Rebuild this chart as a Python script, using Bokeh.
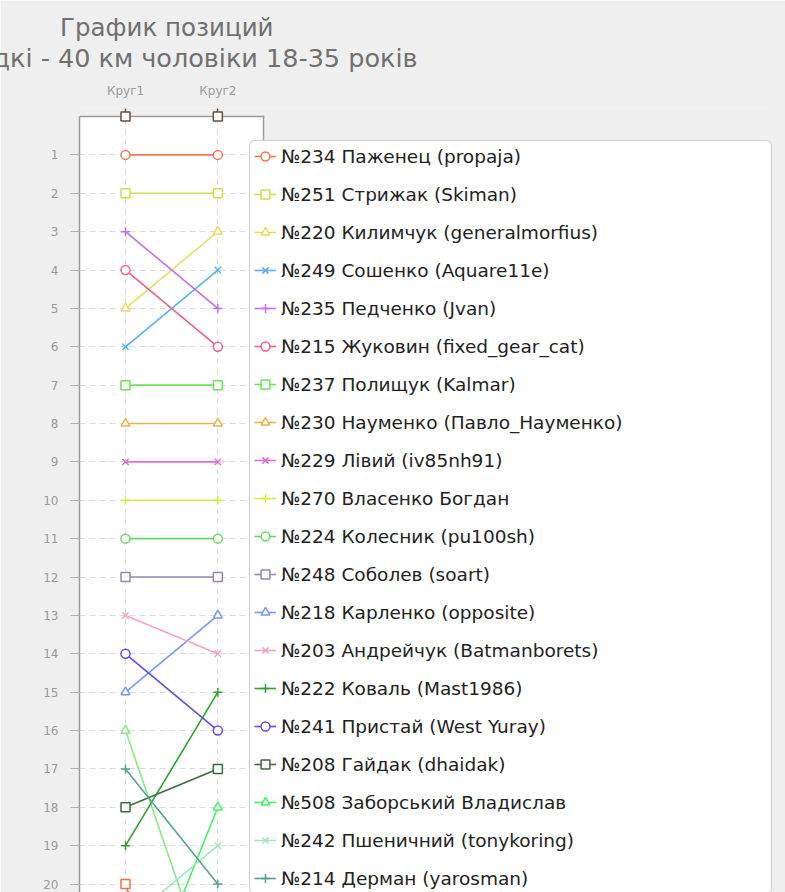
from bokeh.plotting import figure
from bokeh.models import (Range1d, FixedTicker, Legend, LegendItem,
                          BoxAnnotation, Title)
from bokeh.embed import file_html
from bokeh.resources import INLINE

title_text = "График позиций"
subtitle_text = "дкі - 40 км чоловіки 18-35 років"
laps = ["Круг1", "Круг2"]

names = [
    "№234 Паженец (propaja)",
    "№251 Стрижак (Skiman)",
    "№220 Килимчук (generalmorfius)",
    "№249 Сошенко (Aquare11e)",
    "№235 Педченко (Jvan)",
    "№215 Жуковин (fixed_gear_cat)",
    "№237 Полищук (Kalmar)",
    "№230 Науменко (Павло_Науменко)",
    "№229 Лівий (iv85nh91)",
    "№270 Власенко Богдан",
    "№224 Колесник (pu100sh)",
    "№248 Соболев (soart)",
    "№218 Карленко (opposite)",
    "№203 Андрейчук (Batmanborets)",
    "№222 Коваль (Mast1986)",
    "№241 Пристай (West Yuray)",
    "№208 Гайдак (dhaidak)",
    "№508 Заборський Владислав",
    "№242 Пшеничний (tonykoring)",
    "№214 Дерман (yarosman)",
]
lap1_pos = [1, 2, 5, 6, 3, 4, 7, 8, 9, 10, 11, 12, 15, 13, 19, 14, 18, 24, 21, 17]
lap2_pos = [1, 2, 3, 4, 5, 6, 7, 8, 9, 10, 11, 12, 13, 14, 15, 16, 17, 18, 19, 20]
colors = ["#f07850", "#c4e44c", "#e6dc64", "#5eaef0", "#c070f0",
          "#ee6088", "#6ee25c", "#e8b448", "#e070d8", "#d4ee40",
          "#6cd46c", "#9686b0", "#7898f6", "#f2a8b8", "#30a030",
          "#5a4ee0", "#3f6a3f", "#48f068", "#a0e6c0", "#5a9e90"]
markers = ["circle", "square", "triangle", "x", "cross"] * 4

# riders whose legend entries fall below the visible area
extra_lap1 = [16, 20]
extra_lap2 = [23, 27]
extra_colors = ["#86e886", "#f07040"]
extra_markers = ["triangle", "square"]

rank_ticks = list(range(1, 21))
axis_rank = 0  # rank value at the top edge of the plot box

# ---- layout (screen pixels) ----
W, H = 785, 892
FRAME_L, FRAME_R, FRAME_T, FRAME_B = 79, 785, 108, 892
X0_PX, DX_PX = 125.0, 92.34    # screen x of first lap, px per lap
Y0_PX, DY_PX = 116.0, 38.378   # screen y of rank 0, px per rank
BOX_R_PX = 263                  # right edge of the plot box
LEG_L, LEG_T = 249, 142         # legend box left / top


def xd(px):
    return (px - X0_PX) / DX_PX


def yd(px):
    return (px - Y0_PX) / DY_PX


panel_bg = "#efefef"
grey_line = "#9a9a9a"
brown = "#6b4e3a"

p = figure(width=W, height=H, output_backend="svg", toolbar_location=None,
           x_range=Range1d(xd(FRAME_L), xd(FRAME_R)),
           y_range=Range1d(yd(FRAME_B), yd(FRAME_T)),
           x_axis_location="above",
           min_border_left=FRAME_L, min_border_right=W - FRAME_R,
           min_border_top=FRAME_T, min_border_bottom=H - FRAME_B,
           background_fill_color=panel_bg, border_fill_color=panel_bg,
           outline_line_color=None)

lap_idx = list(range(len(laps)))

xa = p.xaxis[0]
xa.ticker = FixedTicker(ticks=lap_idx)
xa.major_label_overrides = {i: lap for i, lap in enumerate(laps)}
xa.axis_line_color = None
xa.major_tick_out = 0
xa.major_tick_in = 4
xa.major_tick_line_color = brown
xa.major_tick_line_width = 1.5
xa.minor_tick_out = 0
xa.minor_tick_in = 0
xa.major_label_text_color = grey_line
xa.major_label_text_font = "DejaVu Sans"
xa.major_label_text_font_size = "12px"
xa.major_label_standoff = 11

ya = p.yaxis[0]
ya.ticker = FixedTicker(ticks=rank_ticks)
ya.bounds = (axis_rank, yd(FRAME_B))
ya.axis_line_color = grey_line
ya.axis_line_width = 1.5
ya.major_tick_out = 9
ya.major_tick_in = 0
ya.major_tick_line_color = "#b0b0b0"
ya.minor_tick_out = 0
ya.minor_tick_in = 0
ya.major_label_text_color = grey_line
ya.major_label_text_font = "DejaVu Sans"
ya.major_label_text_font_size = "12px"
ya.major_label_standoff = 12

p.xgrid.ticker = FixedTicker(ticks=lap_idx)
p.ygrid.ticker = FixedTicker(ticks=rank_ticks)
p.xgrid.grid_line_color = "#dcdcdc"
p.ygrid.grid_line_color = "#dcdcdc"
p.xgrid.grid_line_dash = "6 4"
p.ygrid.grid_line_dash = "6 4"

# white plot box (drawn below the grid)
p.add_layout(BoxAnnotation(left=xd(FRAME_L) - 1, right=xd(BOX_R_PX), top=axis_rank,
                           bottom=yd(FRAME_B) + 1, fill_color="white", fill_alpha=1.0,
                           line_color=None, level="image"))
# hide grid pieces outside the plot box
p.add_layout(BoxAnnotation(top=yd(FRAME_T) - 1, bottom=axis_rank, fill_color=panel_bg,
                           fill_alpha=1.0, line_color=None, level="underlay"))
p.add_layout(BoxAnnotation(left=xd(771), fill_color=panel_bg, fill_alpha=1.0,
                           line_color=None, level="underlay"))
# plot box border (top and right)
hw_y = 0.75 / DY_PX
hw_x = 0.75 / DX_PX
p.add_layout(BoxAnnotation(left=xd(FRAME_L) - 1, right=xd(BOX_R_PX) + hw_x,
                           top=axis_rank - hw_y, bottom=axis_rank + hw_y,
                           fill_color=grey_line, fill_alpha=1.0,
                           line_color=None, level="underlay"))
p.add_layout(BoxAnnotation(left=xd(BOX_R_PX) - hw_x, right=xd(BOX_R_PX) + hw_x,
                           top=axis_rank - hw_y, bottom=yd(LEG_T), fill_color=grey_line,
                           fill_alpha=1.0, line_color=None, level="underlay"))

for i in range(len(extra_lap1)):
    ys = [extra_lap1[i], extra_lap2[i]]
    p.line(lap_idx, ys, line_color=extra_colors[i], line_width=1.6)
    p.scatter(lap_idx, ys, marker=extra_markers[i], size=9,
              line_color=extra_colors[i], fill_color="white", line_width=1.5)

items = []
for i, name in enumerate(names):
    ys = [lap1_pos[i], lap2_pos[i]]
    ln = p.line(lap_idx, ys, line_color=colors[i], line_width=1.6)
    sc = p.scatter(lap_idx, ys, marker=markers[i], size=9,
                   line_color=colors[i], fill_color="white", line_width=1.5)
    items.append(LegendItem(label=name, renderers=[ln, sc]))

# lap markers on the top edge of the plot box
p.scatter(lap_idx, [axis_rank] * len(lap_idx), marker="square", size=9,
          line_color=brown, fill_color="white", line_width=1.5, level="overlay")

n_items = len(items)
leg_pad, item_h, leg_spacing = 4, 22, 16
leg_h = n_items * item_h + (n_items - 1) * leg_spacing + 2 * leg_pad
legend = Legend(items=items, location=(LEG_L - FRAME_L, FRAME_B - LEG_T - leg_h),
                orientation="vertical",
                glyph_width=22, glyph_height=item_h, label_height=item_h,
                spacing=leg_spacing, padding=leg_pad, label_standoff=5,
                label_width=486, margin=0,
                label_text_font="DejaVu Sans", label_text_font_size="18.5px",
                label_text_color="#222222",
                border_line_color="#a0a0a0", border_line_width=1.5,
                background_fill_color="white", background_fill_alpha=1.0)
try:
    legend.border_radius = 6
except Exception:
    pass
p.add_layout(legend, "center")

p.add_layout(Title(text=subtitle_text, align="right", offset=FRAME_R - 417, standoff=16,
                   vertical_align="bottom", text_font="DejaVu Sans",
                   text_font_size="25.5px", text_font_style="normal",
                   text_color="#707070"), "above")
p.add_layout(Title(text=title_text, align="right", offset=FRAME_R - 273, standoff=-19,
                   vertical_align="bottom", text_font="DejaVu Sans",
                   text_font_size="24.5px", text_font_style="normal",
                   text_color="#707070"), "above")

open("out.html", "w").write(file_html(p, INLINE))
